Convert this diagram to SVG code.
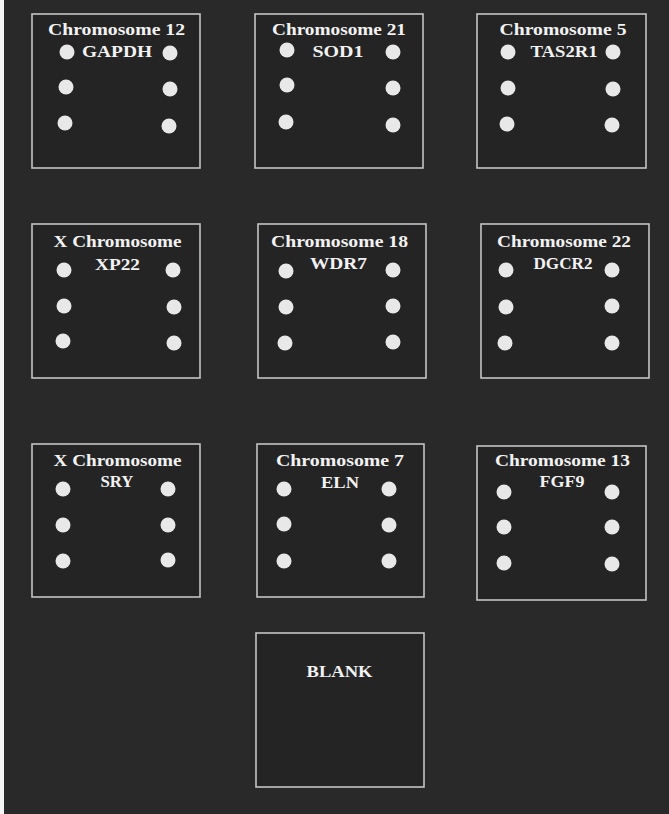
<svg xmlns="http://www.w3.org/2000/svg" width="669" height="814" viewBox="0 0 669 814">
<style>
.box{fill:#242424;stroke:#c4c4c4;stroke-width:1.6}
.dot{fill:#e8e8e8}
.t{font-family:"Liberation Serif","Times New Roman",serif;font-weight:bold;font-size:17px;fill:#f2f2f2;text-anchor:middle}
</style>
<rect x="0" y="0" width="669" height="814" fill="#292929"/>
<rect x="0" y="0" width="4" height="814" fill="#f4f4f4"/>
<g id="node-chr12">
<rect class="box" x="32" y="14" width="168" height="154"/>
<text class="t" x="116.5" y="35" textLength="137" lengthAdjust="spacingAndGlyphs">Chromosome 12</text>
<text class="t" x="117" y="57" textLength="70" lengthAdjust="spacingAndGlyphs">GAPDH</text>
<circle class="dot" cx="67" cy="52" r="7.5"/><circle class="dot" cx="66" cy="87" r="7.5"/><circle class="dot" cx="65" cy="123" r="7.5"/>
<circle class="dot" cx="170" cy="53" r="7.5"/><circle class="dot" cx="170" cy="89" r="7.5"/><circle class="dot" cx="169" cy="126" r="7.5"/>
</g>
<g id="node-chr21">
<rect class="box" x="255" y="14" width="168" height="154"/>
<text class="t" x="339" y="35" textLength="134" lengthAdjust="spacingAndGlyphs">Chromosome 21</text>
<text class="t" x="338" y="57" textLength="51" lengthAdjust="spacingAndGlyphs">SOD1</text>
<circle class="dot" cx="287" cy="50" r="7.5"/><circle class="dot" cx="287" cy="85" r="7.5"/><circle class="dot" cx="286" cy="122" r="7.5"/>
<circle class="dot" cx="393" cy="52" r="7.5"/><circle class="dot" cx="393" cy="88" r="7.5"/><circle class="dot" cx="393" cy="125" r="7.5"/>
</g>
<g id="node-chr5">
<rect class="box" x="477" y="14" width="169" height="154"/>
<text class="t" x="563" y="35" textLength="127" lengthAdjust="spacingAndGlyphs">Chromosome 5</text>
<text class="t" x="564" y="57" textLength="67" lengthAdjust="spacingAndGlyphs">TAS2R1</text>
<circle class="dot" cx="508" cy="52" r="7.5"/><circle class="dot" cx="508" cy="88" r="7.5"/><circle class="dot" cx="507" cy="124" r="7.5"/>
<circle class="dot" cx="613" cy="52" r="7.5"/><circle class="dot" cx="613" cy="89" r="7.5"/><circle class="dot" cx="612" cy="125" r="7.5"/>
</g>
<g id="node-xp22">
<rect class="box" x="32" y="224" width="168" height="154"/>
<text class="t" x="117.5" y="247" textLength="128" lengthAdjust="spacingAndGlyphs">X Chromosome</text>
<text class="t" x="117.5" y="270" textLength="45" lengthAdjust="spacingAndGlyphs">XP22</text>
<circle class="dot" cx="64" cy="270" r="7.5"/><circle class="dot" cx="64" cy="306" r="7.5"/><circle class="dot" cx="63" cy="341" r="7.5"/>
<circle class="dot" cx="173" cy="270" r="7.5"/><circle class="dot" cx="174" cy="307" r="7.5"/><circle class="dot" cx="174" cy="343" r="7.5"/>
</g>
<g id="node-chr18">
<rect class="box" x="258" y="224" width="168" height="154"/>
<text class="t" x="339.5" y="247" textLength="137" lengthAdjust="spacingAndGlyphs">Chromosome 18</text>
<text class="t" x="338.5" y="269" textLength="57" lengthAdjust="spacingAndGlyphs">WDR7</text>
<circle class="dot" cx="286" cy="271" r="7.5"/><circle class="dot" cx="286" cy="307" r="7.5"/><circle class="dot" cx="285" cy="343" r="7.5"/>
<circle class="dot" cx="393" cy="270" r="7.5"/><circle class="dot" cx="393" cy="306" r="7.5"/><circle class="dot" cx="393" cy="342" r="7.5"/>
</g>
<g id="node-chr22">
<rect class="box" x="481" y="224" width="168" height="154"/>
<text class="t" x="564" y="247" textLength="134" lengthAdjust="spacingAndGlyphs">Chromosome 22</text>
<text class="t" x="563" y="269" textLength="59" lengthAdjust="spacingAndGlyphs">DGCR2</text>
<circle class="dot" cx="506" cy="270" r="7.5"/><circle class="dot" cx="506" cy="307" r="7.5"/><circle class="dot" cx="505" cy="343" r="7.5"/>
<circle class="dot" cx="612" cy="270" r="7.5"/><circle class="dot" cx="612" cy="306" r="7.5"/><circle class="dot" cx="612" cy="343" r="7.5"/>
</g>
<g id="node-sry">
<rect class="box" x="32" y="444" width="168" height="153"/>
<text class="t" x="117.5" y="466" textLength="128" lengthAdjust="spacingAndGlyphs">X Chromosome</text>
<text class="t" x="117" y="487" textLength="33" lengthAdjust="spacingAndGlyphs">SRY</text>
<circle class="dot" cx="63" cy="489" r="7.5"/><circle class="dot" cx="63" cy="525" r="7.5"/><circle class="dot" cx="63" cy="561" r="7.5"/>
<circle class="dot" cx="168" cy="489" r="7.5"/><circle class="dot" cx="168" cy="525" r="7.5"/><circle class="dot" cx="168" cy="560" r="7.5"/>
</g>
<g id="node-chr7">
<rect class="box" x="257" y="444" width="167" height="153"/>
<text class="t" x="340" y="466" textLength="128" lengthAdjust="spacingAndGlyphs">Chromosome 7</text>
<text class="t" x="340" y="488" textLength="38" lengthAdjust="spacingAndGlyphs">ELN</text>
<circle class="dot" cx="284" cy="489" r="7.5"/><circle class="dot" cx="284" cy="524" r="7.5"/><circle class="dot" cx="284" cy="561" r="7.5"/>
<circle class="dot" cx="389" cy="489" r="7.5"/><circle class="dot" cx="389" cy="525" r="7.5"/><circle class="dot" cx="389" cy="561" r="7.5"/>
</g>
<g id="node-chr13">
<rect class="box" x="477" y="446" width="169" height="154"/>
<text class="t" x="562.5" y="466" textLength="135" lengthAdjust="spacingAndGlyphs">Chromosome 13</text>
<text class="t" x="562" y="487" textLength="45" lengthAdjust="spacingAndGlyphs">FGF9</text>
<circle class="dot" cx="504" cy="492" r="7.5"/><circle class="dot" cx="504" cy="527" r="7.5"/><circle class="dot" cx="504" cy="563" r="7.5"/>
<circle class="dot" cx="612" cy="492" r="7.5"/><circle class="dot" cx="612" cy="527" r="7.5"/><circle class="dot" cx="612" cy="564" r="7.5"/>
</g>
<g id="node-blank">
<rect class="box" x="256" y="633" width="168" height="154"/>
<text class="t" x="339.5" y="677" textLength="66" lengthAdjust="spacingAndGlyphs">BLANK</text>
</g>
<g id="connectors"/>
</svg>
